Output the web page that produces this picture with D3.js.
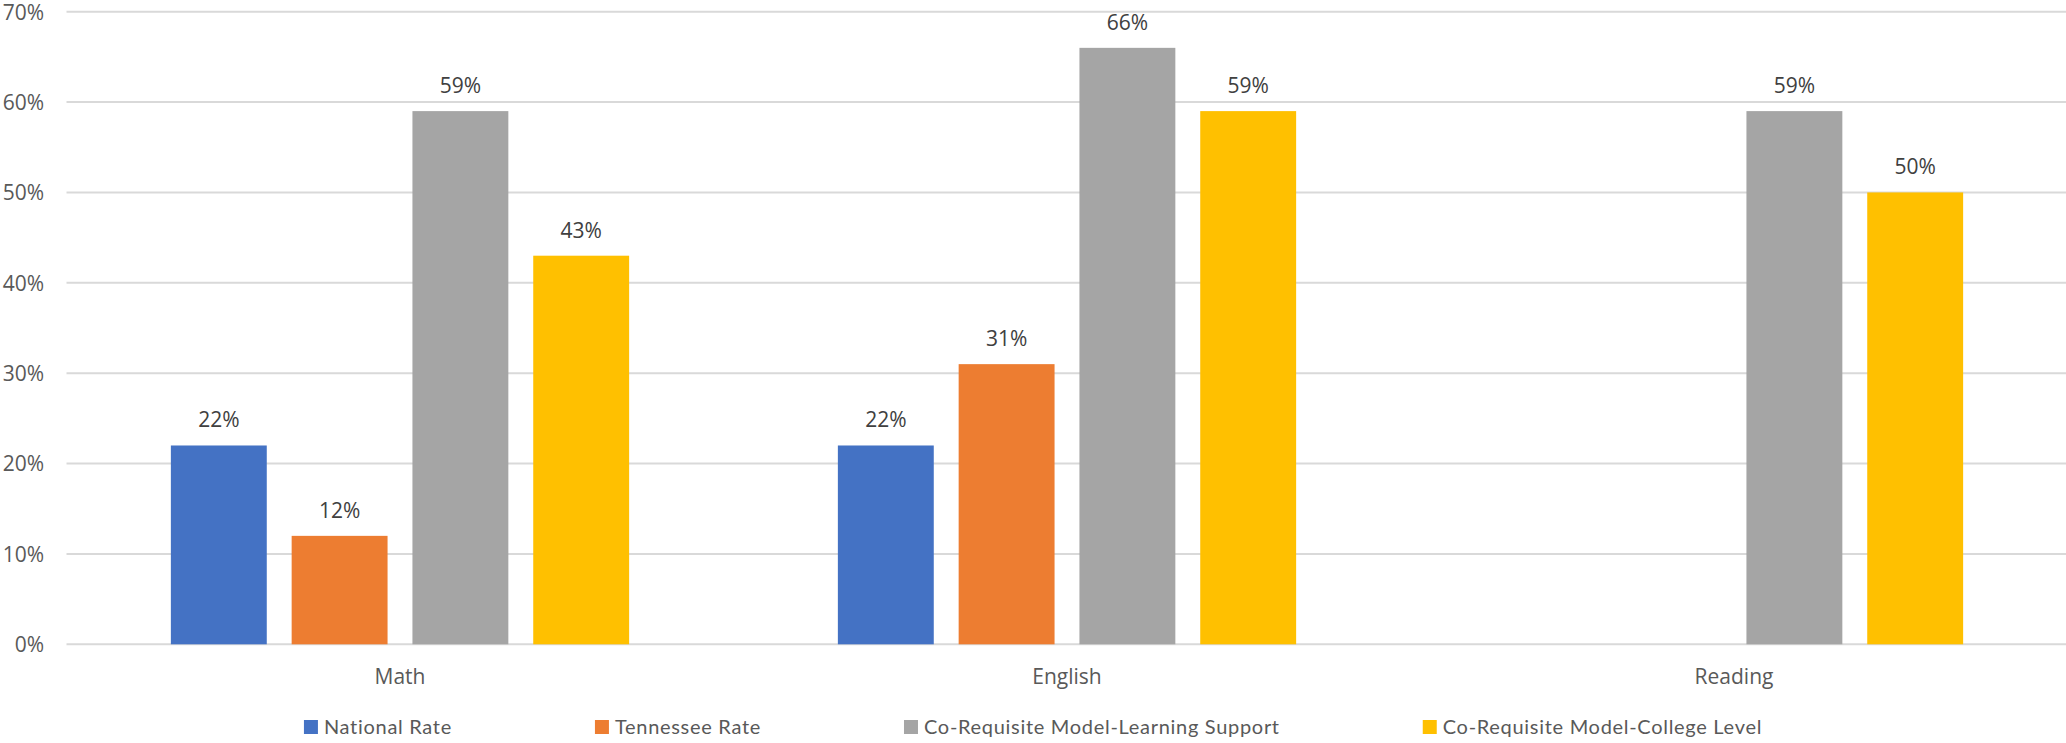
<!DOCTYPE html>
<html>
<head>
<meta charset="utf-8">
<script src="https://cdn.jsdelivr.net/npm/d3@7"></script>
<style>
  html, body { margin: 0; padding: 0; background: #fff; }
  svg { display: block; }
</style>
</head>
<body>
<svg id="chart" width="2066" height="743"></svg>
<script>
// ---- data ----
const categories = ["Math", "English", "Reading"];
const seriesNames = ["National Rate", "Tennessee Rate", "Co-Requisite Model-Learning Support", "Co-Requisite Model-College Level"];
const seriesColors = ["#4472C4", "#ED7D31", "#A5A5A5", "#FFC000"];
const nationalRate = [0.22, 0.22, null];
const tennesseeRate = [0.12, 0.31, null];
const learningSupport = [0.59, 0.66, 0.59];
const collegeLevel = [0.43, 0.59, 0.50];
const yTicks = [0, 0.1, 0.2, 0.3, 0.4, 0.5, 0.6, 0.7];

const seriesValues = [nationalRate, tennesseeRate, learningSupport, collegeLevel];

const W = 2066, H = 743;
const svg = d3.select("#chart");

const x0 = d3.scaleBand().domain(categories).range([66.5, 2067.5]).padding(0);
const x1 = d3.scaleBand().domain(seriesNames).range([0, x0.bandwidth()])
  .paddingInner(0.206).paddingOuter(0.864);
const y = d3.scaleLinear().domain([0, 0.7]).range([644.3, 11.7]);

const fmt = d3.format(".0%");

// gridlines
const grid = svg.append("g");
grid.selectAll("line").data(yTicks).join("line")
  .attr("x1", 66.5).attr("x2", W)
  .attr("y1", d => y(d)).attr("y2", d => y(d))
  .attr("stroke", "#D9D9D9").attr("stroke-width", 2);

// y axis labels
const yAxis = d3.axisLeft(y).tickValues(yTicks).tickFormat(fmt).tickSize(0).tickPadding(0);
const yg = svg.append("g").attr("transform", "translate(44,0)").call(yAxis);
yg.select(".domain").remove();
yg.selectAll("text")
  .attr("font-family", "'Open Sans', sans-serif")
  .attr("font-size", 21)
  .attr("fill", "#595959")
  .attr("dy", "0.35em");

// bars
const flat = [];
categories.forEach((c, ci) => {
  seriesNames.forEach((s, si) => {
    const v = seriesValues[si][ci];
    if (v !== null && v !== undefined) flat.push({ c, s, v, color: seriesColors[si] });
  });
});

const bars = svg.append("g");
bars.selectAll("rect").data(flat).join("rect")
  .attr("x", d => x0(d.c) + x1(d.s))
  .attr("width", x1.bandwidth())
  .attr("y", d => y(d.v))
  .attr("height", d => y(0) - y(d.v))
  .attr("fill", d => d.color);

// data labels
bars.selectAll("text").data(flat).join("text")
  .attr("x", d => x0(d.c) + x1(d.s) + x1.bandwidth() / 2)
  .attr("y", d => y(d.v) - 18)
  .attr("text-anchor", "middle")
  .attr("font-family", "'Open Sans', sans-serif")
  .attr("font-size", 21)
  .attr("fill", "#404040")
  .text(d => fmt(d.v));

// category axis labels
const xAxis = d3.axisBottom(x0).tickSize(0).tickPadding(0);
const xg = svg.append("g").attr("transform", "translate(0,684)").call(xAxis);
xg.select(".domain").remove();
xg.selectAll("text")
  .attr("font-family", "'Open Sans', sans-serif")
  .attr("font-size", 21)
  .attr("fill", "#595959")
  .attr("dy", 0);

// legend
const legend = svg.append("g");
const items = legend.selectAll("g").data(seriesNames).join("g");
items.append("rect")
  .attr("width", 14).attr("height", 14)
  .attr("y", 720)
  .attr("fill", (d, i) => seriesColors[i]);
items.append("text")
  .attr("x", 20).attr("y", 734)
  .attr("font-family", "Lato, sans-serif")
  .attr("font-size", 20)
  .attr("letter-spacing", 0.7)
  .attr("fill", "#595959")
  .text(d => d);

// position legend items
const gap = 143;
let widths = [];
items.each(function () {
  widths.push(d3.select(this).select("text").node().getComputedTextLength() + 20);
});
const total = d3.sum(widths) + gap * (widths.length - 1);
let cx = W / 2 - total / 2;
items.attr("transform", (d, i) => {
  const t = `translate(${cx},0)`;
  cx += widths[i] + gap;
  return t;
});
</script>
</body>
</html>
